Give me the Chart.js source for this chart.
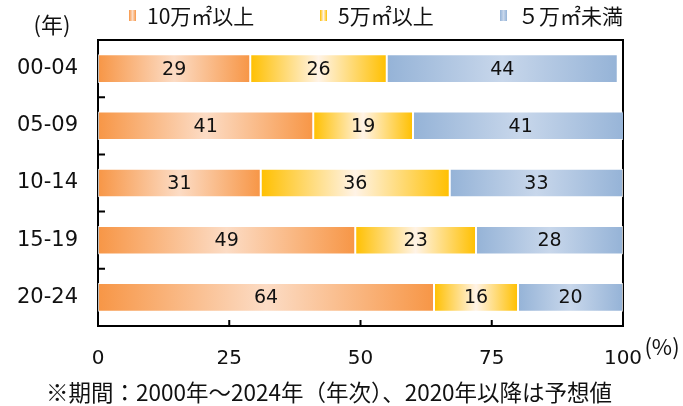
<!DOCTYPE html>
<html>
<head>
<meta charset="utf-8">
<script src="https://cdn.jsdelivr.net/npm/chart.js@4.4.1/dist/chart.umd.min.js"></script>
<style>
html, body { margin: 0; padding: 0; background: #fff; }
#wrap { width: 683px; height: 406px; position: relative; }
</style>
</head>
<body>
<div id="wrap"><canvas id="chart_main"></canvas></div>
<script>
const periods = ['00-04', '05-09', '10-14', '15-19', '20-24'];
const over100k = [29, 41, 31, 49, 64];
const over50k = [26, 19, 36, 23, 16];
const under50k = [44, 41, 33, 28, 20];
const xTicks = [0, 25, 50, 75, 100];
const seriesNames = ['10万㎡以上', '5万㎡以上', '５万㎡未満'];
const footnote = '※期間：2000年～2024年（年次）、2020年以降は予想値';

const FONT = "'DejaVu Sans', 'Noto Sans CJK JP', sans-serif";
const JFONT = "'Noto Sans CJK JP', 'DejaVu Sans', sans-serif";
const TEXT = '#111';
const shades = {
    orange: ['#F79646', '#FCDCC5'],
    yellow: ['#FFC000', '#FFF3E6'],
    blue: ['#95B3D7', '#C8D7EB']
};

function makeGradient(ctx, x0, x1, pair) {
    const g = ctx.createLinearGradient(x0, 0, x1, 0);
    g.addColorStop(0, pair[0]);
    g.addColorStop(0.5, pair[1]);
    g.addColorStop(1, pair[0]);
    return g;
}

// each segment gets its own dark-light-dark gradient, from the x scale
function segmentFill(pair) {
    return function (c) {
        const chart = c.chart;
        const xs = chart.scales.x;
        if (!xs || c.dataIndex === undefined) return pair[0];
        let start = 0;
        for (let d = 0; d < c.datasetIndex; d++) start += chart.data.datasets[d].data[c.dataIndex];
        const end = start + c.raw;
        const x0 = xs.getPixelForValue(start);
        const x1 = xs.getPixelForValue(end);
        if (!isFinite(x0) || !isFinite(x1) || x0 === x1) return pair[0];
        return makeGradient(chart.ctx, x0, x1, pair);
    };
}

const framePlugin = {
    id: 'frame',
    beforeDatasetsDraw(chart) {
        const {ctx, chartArea: a, scales} = chart;
        ctx.save();
        ctx.strokeStyle = '#000';
        ctx.lineWidth = 2;
        ctx.strokeRect(a.left, a.top, a.right - a.left, a.bottom - a.top);
        ctx.beginPath();
        xTicks.forEach(v => {
            const px = scales.x.getPixelForValue(v);
            ctx.moveTo(px, a.bottom);
            ctx.lineTo(px, a.bottom - 6);
        });
        for (let i = 0; i <= periods.length; i++) {
            const py = scales.y.getPixelForValue(i - 0.5);
            ctx.moveTo(a.left, py);
            ctx.lineTo(a.left + 7, py);
        }
        ctx.stroke();
        ctx.restore();
    }
};

const valueLabels = {
    id: 'valueLabels',
    afterDatasetsDraw(chart) {
        const ctx = chart.ctx;
        ctx.save();
        ctx.font = '19px ' + FONT;
        ctx.fillStyle = TEXT;
        ctx.textAlign = 'center';
        ctx.textBaseline = 'middle';
        chart.data.datasets.forEach((ds, i) => {
            chart.getDatasetMeta(i).data.forEach((el, j) => {
                ctx.fillText(String(ds.data[j]), (el.x + el.base) / 2, el.y + 1);
            });
        });
        ctx.restore();
    }
};

const extras = {
    id: 'extras',
    afterDraw(chart) {
        const ctx = chart.ctx;
        ctx.save();
        ctx.fillStyle = TEXT;
        ctx.textBaseline = 'middle';
        ctx.font = '21px ' + JFONT;

        // legend
        const pairs = [shades.orange, shades.yellow, shades.blue];
        const starts = [129, 320, 500];
        seriesNames.forEach((name, i) => {
            const x = starts[i];
            ctx.fillStyle = makeGradient(ctx, x, x + 7, pairs[i]);
            ctx.fillRect(x, 10, 7, 11);
            ctx.fillStyle = TEXT;
            ctx.textAlign = 'left';
            ctx.fillText(name, x + 18, 16);
        });

        ctx.font = '22px ' + JFONT;
        ctx.textAlign = 'center';
        ctx.fillText('(年)', 52, 25);
        ctx.fillText('(%)', 662, 347);

        ctx.font = '22.5px ' + JFONT;
        ctx.textAlign = 'left';
        ctx.fillText(footnote, 46, 392);
        ctx.restore();
    }
};

const ctx = document.getElementById('chart_main').getContext('2d');
const chart = new Chart(ctx, {
    type: 'bar',
    data: {
        labels: periods,
        datasets: [
            {label: seriesNames[0], data: over100k, backgroundColor: segmentFill(shades.orange)},
            {label: seriesNames[1], data: over50k, backgroundColor: segmentFill(shades.yellow)},
            {label: seriesNames[2], data: under50k, backgroundColor: segmentFill(shades.blue)}
        ]
    },
    options: {
        indexAxis: 'y',
        responsive: true,
        maintainAspectRatio: false,
        animation: false,
        layout: {padding: {top: 40, right: 60, left: 0, bottom: 0}},
        datasets: {
            bar: {
                categoryPercentage: 1,
                barPercentage: 0.5,
                borderWidth: 1,
                borderColor: 'rgba(255,255,255,0.75)',
                borderSkipped: false
            }
        },
        plugins: {
            legend: {display: false},
            tooltip: {enabled: false}
        },
        scales: {
            x: {
                stacked: true,
                min: 0,
                max: 100,
                afterBuildTicks: s => { s.ticks = xTicks.map(v => ({value: v})); },
                afterFit: s => { s.height = 80; },
                grid: {display: false, drawTicks: false},
                border: {display: false},
                ticks: {padding: 21, color: TEXT, font: {family: FONT, size: 20}}
            },
            y: {
                stacked: true,
                afterFit: s => { s.width = 98; },
                grid: {display: false, drawTicks: false},
                border: {display: false},
                ticks: {padding: 20, color: TEXT, font: {family: FONT, size: 21}}
            }
        }
    },
    plugins: [framePlugin, valueLabels, extras]
});
</script>
</body>
</html>
